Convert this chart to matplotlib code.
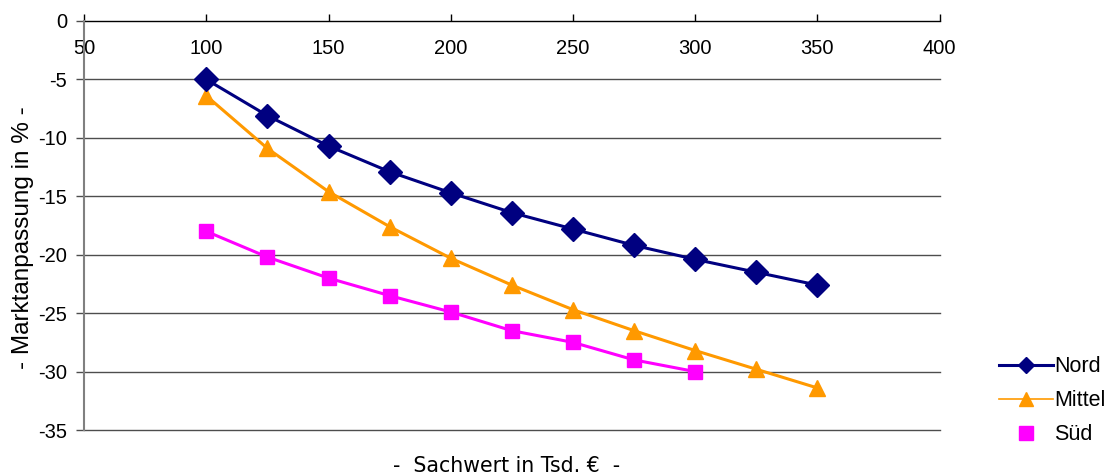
import matplotlib
matplotlib.use("Agg")
import matplotlib.pyplot as plt
from matplotlib.lines import Line2D

x_values = [100, 125, 150, 175, 200, 225, 250, 275, 300, 325, 350]
nord = [-5.0, -8.1, -10.7, -12.9, -14.7, -16.4, -17.8, -19.2, -20.4, -21.5, -22.6]
mittel = [-6.4, -10.9, -14.6, -17.6, -20.3, -22.6, -24.7, -26.5, -28.2, -29.8, -31.4]
sued_x = [100, 125, 150, 175, 200, 225, 250, 275, 300]
sued = [-18.0, -20.2, -22.0, -23.5, -24.9, -26.5, -27.5, -29.0, -30.0]
x_ticks = [50, 100, 150, 200, 250, 300, 350, 400]
y_ticks = [0, -5, -10, -15, -20, -25, -30, -35]

C_NORD = "#000080"
C_MITTEL = "#FF9900"
C_SUED = "#FF00FF"

plt.rcParams['font.family'] = ['Liberation Sans', 'DejaVu Sans']

fig = plt.figure(figsize=(11.16, 4.76), dpi=100)
ax = fig.add_axes([0.0753, 0.0966, 0.842 - 0.0753, 0.9559 - 0.0966])

ax.set_xlim(50, 400)
ax.set_ylim(-35, 0)

for yv in y_ticks[1:]:
    ax.axhline(yv, color="#4d4d4d", lw=1.0, zorder=1, clip_on=False)

ax.plot(x_values, mittel, color=C_MITTEL, lw=2.2, marker="^", ms=11.5, zorder=3)
ax.plot(sued_x, sued, color=C_SUED, lw=2.2, marker="s", ms=10.5, zorder=3)
ax.plot(x_values, nord, color=C_NORD, lw=2.2, marker="D", ms=12.5, zorder=4)

ax.spines['right'].set_visible(False)
ax.spines['top'].set_visible(False)
ax.spines['bottom'].set_position(('data', 0))
ax.spines['bottom'].set_color("black")
ax.spines['bottom'].set_linewidth(1.0)
ax.spines['bottom'].set_zorder(2)
ax.spines['left'].set_color("#808080")
ax.spines['left'].set_linewidth(1.5)

ax.set_xticks(x_ticks)
ax.set_xticklabels([str(v) for v in x_ticks])
ax.set_yticks(y_ticks)
ax.set_yticklabels([str(v) for v in y_ticks])
ax.tick_params(axis='x', direction='in', length=5, width=1, color='black',
               labelsize=14.5, pad=13)
ax.tick_params(axis='y', direction='out', length=6, width=1, color='#4d4d4d',
               labelsize=14.5, pad=6)

fig.text(0.0205, 0.5, "- Marktanpassung in % -", rotation=90, ha='center',
         va='center', fontsize=17.5)
fig.text(0.4535, 0.021, "-  Sachwert in Tsd. €  -", ha='center', va='center',
         fontsize=14.8, family=['DejaVu Sans'])

handles = [
    Line2D([], [], color=C_NORD, lw=2.2, marker="D", ms=8),
    Line2D([], [], color=C_MITTEL, lw=1.2, marker="^", ms=10),
    Line2D([], [], color=C_SUED, lw=0, marker="s", ms=10),
]
fig.legend(handles, ["Nord", "Mittel", "Süd"], loc='center left',
           bbox_to_anchor=(0.8875, 0.158), frameon=False, fontsize=15.5,
           handlelength=2.5, handletextpad=0.05, labelspacing=0.6,
           borderaxespad=0)

fig.savefig("out.png", dpi=100)
